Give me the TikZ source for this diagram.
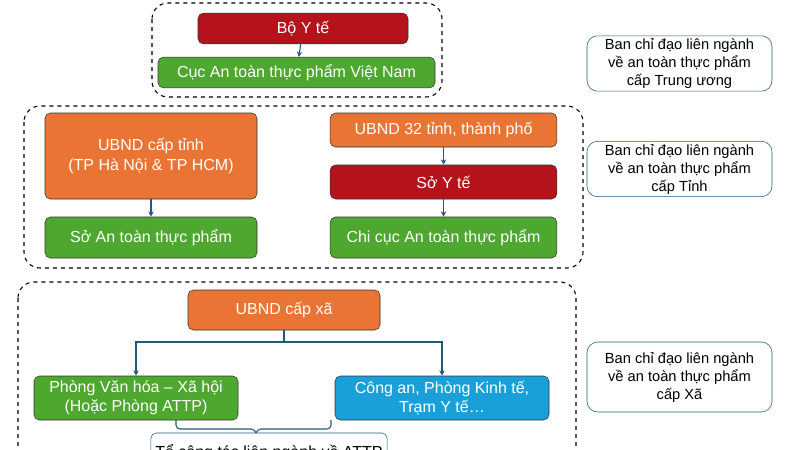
\documentclass[tikz,border=0pt]{standalone}
\usepackage{fontspec}
\setmainfont{Liberation Sans}
\usetikzlibrary{arrows.meta,positioning}
\definecolor{redbox}{HTML}{B5121B}
\definecolor{greenbox}{HTML}{4EA72E}
\definecolor{orangebox}{HTML}{EA7434}
\definecolor{bluebox}{HTML}{1AA0D8}
\definecolor{linkcol}{HTML}{1F5A7A}
\tikzset{
  unit/.style={draw=black!80,rounded corners=4pt,text=white,align=center,
    inner sep=2pt,font=\fontsize{12}{14.5}\selectfont},
  note/.style={draw=linkcol,rounded corners=8pt,align=center,
    minimum width=138.75pt,minimum height=36pt,inner sep=2pt,
    font=\fontsize{11}{13.5}\selectfont},
  group/.style={dashed,rounded corners=12pt,thick},
  link/.style={linkcol,thick,-{Stealth[length=4pt,width=4pt]}}
}
\begin{document}
\begin{tikzpicture}[x=0.75pt,y=-0.75pt]
  \useasboundingbox (0,0) rectangle (801,450);
  \clip (0,0) rectangle (801,450);

  % Trung uong
  \draw[group] (152,3) rectangle (442,97);
  \node[unit,fill=redbox,minimum width=157.5pt,minimum height=23pt] (byt) at (303,28.5) {Bộ Y tế};
  \node[unit,fill=greenbox,minimum width=207.75pt,minimum height=23pt] (cuc) at (296.5,72.5) {Cục An toàn thực phẩm Việt Nam};
  \draw[link] (byt) -- (cuc);

  % Tinh
  \draw[group] (24,106) rectangle (583,268);
  \node[unit,fill=orangebox,minimum width=159pt,minimum height=64.5pt] (tinh) at (151,156) {UBND cấp tỉnh\\(TP Hà Nội \& TP HCM)};
  \node[unit,fill=greenbox,minimum width=159pt,minimum height=30.75pt] (so) at (151,237.5) {Sở An toàn thực phẩm};
  \draw[link] (tinh) -- (so);
  \node[unit,fill=orangebox,minimum width=170pt,minimum height=25.5pt] (ubnd32) at (443.5,130) {UBND 32 tỉnh, thành phố};
  \node[unit,fill=redbox,minimum width=170pt,minimum height=25.5pt] (syt) at (443.5,182) {Sở Y tế};
  \node[unit,fill=greenbox,minimum width=170pt,minimum height=30.75pt] (chicuc) at (443.5,237.5) {Chi cục An toàn thực phẩm};
  \draw[link] (ubnd32) -- (syt);
  \draw[link] (syt) -- (chicuc);

  % Xa
  \draw[group] (18,282) rectangle (576,520);
  \node[unit,fill=orangebox,minimum width=144pt,minimum height=30pt] (xa) at (284,310) {UBND cấp xã};
  \node[unit,fill=greenbox,minimum width=153pt,minimum height=33pt] (pvh) at (136,398) {Phòng Văn hóa – Xã hội\\(Hoặc Phòng ATTP)};
  \node[unit,fill=bluebox,minimum width=160.5pt,minimum height=33pt] (ca) at (442,398) {Công an, Phòng Kinh tế,\\Trạm Y tế…};
  \coordinate (split) at (284,342);
  \draw[link] (xa.south) -- (split) -| (pvh.north);
  \draw[link] (split) -| (ca.north);
  \node[draw=linkcol,rounded corners=4pt,minimum width=151.5pt,minimum height=30pt,
    font=\fontsize{12}{14.5}\selectfont] (to) at (269,453) {Tổ công tác liên ngành về ATTP};
  \draw[linkcol,thick,rounded corners=3pt] (176,420) |- (255,429) -- (256,433);
  \draw[linkcol,thick,rounded corners=3pt] (331,420) |- (257,429) -- (256,433);

  % Ban chi dao
  \node[note] (n1) at (679.5,63.5) {Ban chỉ đạo liên ngành\\về an toàn thực phẩm\\cấp Trung ương};
  \node[note] (n2) at (679.5,169) {Ban chỉ đạo liên ngành\\về an toàn thực phẩm\\cấp Tỉnh};
  \node[note,minimum height=52.5pt] (n3) at (679.5,377) {Ban chỉ đạo liên ngành\\về an toàn thực phẩm\\cấp Xã};
\end{tikzpicture}
\end{document}
